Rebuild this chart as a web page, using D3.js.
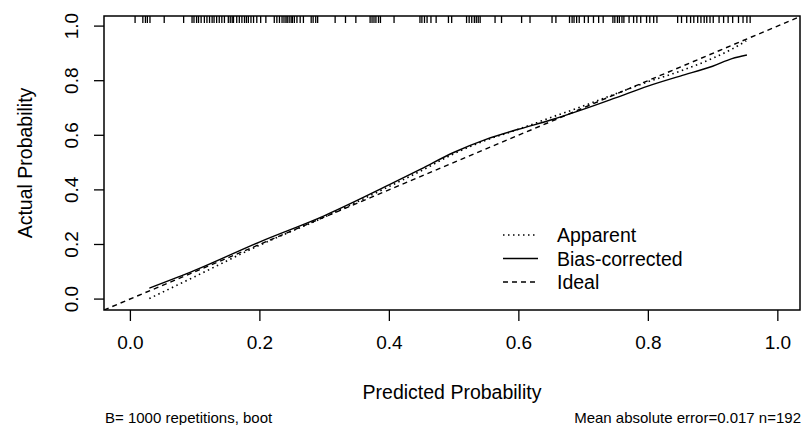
<!DOCTYPE html>
<html>
<head>
<meta charset="utf-8">
<script src="https://cdn.jsdelivr.net/npm/d3@7"></script>
<style>
  body { margin: 0; background: #fff; }
  svg { display: block; font-family: "Liberation Sans", Arial, sans-serif; }
</style>
</head>
<body>
<svg id="chart"></svg>
<script>
var width = 806;
var height = 425;
var box = { left: 104, right: 800, top: 16, bottom: 310 };

// predicted probability grid for the two calibration curves
var apparentX = [0.03, 0.1, 0.2, 0.3, 0.4, 0.45, 0.5, 0.55, 0.6, 0.65, 0.7, 0.75, 0.8, 0.85, 0.9, 0.93, 0.952];
var apparentY = [0.002, 0.082, 0.197, 0.3, 0.412, 0.47, 0.532, 0.582, 0.622, 0.665, 0.707, 0.752, 0.796, 0.835, 0.882, 0.916, 0.946];
var biasX = [0.03, 0.1, 0.2, 0.3, 0.4, 0.45, 0.5, 0.55, 0.6, 0.65, 0.7, 0.75, 0.8, 0.85, 0.9, 0.93, 0.953];
var biasY = [0.04, 0.105, 0.209, 0.305, 0.418, 0.477, 0.537, 0.585, 0.622, 0.656, 0.695, 0.737, 0.78, 0.817, 0.853, 0.881, 0.894];
// rug of predicted probabilities along the top
var rugX = [0.008, 0.020, 0.024, 0.027, 0.031, 0.053, 0.083, 0.096, 0.099, 0.103, 0.106, 0.110, 0.115, 0.119,
  0.123, 0.127, 0.130, 0.134, 0.138, 0.142, 0.146, 0.152, 0.155, 0.158, 0.160, 0.165, 0.169, 0.173, 0.177,
  0.180, 0.183, 0.187, 0.191, 0.196, 0.202, 0.210, 0.223, 0.227, 0.231, 0.235, 0.238, 0.241, 0.243, 0.246,
  0.249, 0.251, 0.254, 0.258, 0.263, 0.268, 0.280, 0.283, 0.287, 0.290, 0.317, 0.333, 0.349, 0.371, 0.374,
  0.377, 0.380, 0.384, 0.387, 0.408, 0.448, 0.451, 0.455, 0.459, 0.465, 0.473, 0.492, 0.497, 0.520, 0.524,
  0.528, 0.532, 0.535, 0.538, 0.541, 0.564, 0.574, 0.605, 0.618, 0.652, 0.658, 0.679, 0.683, 0.686, 0.690,
  0.694, 0.702, 0.708, 0.716, 0.724, 0.731, 0.746, 0.749, 0.753, 0.756, 0.760, 0.763, 0.771, 0.778, 0.783,
  0.789, 0.798, 0.803, 0.809, 0.814, 0.846, 0.852, 0.860, 0.866, 0.871, 0.877, 0.882, 0.887, 0.891, 0.896,
  0.901, 0.910, 0.917, 0.924, 0.931, 0.940, 0.947, 0.953, 0.958];
var tickValues = [0, 0.2, 0.4, 0.6, 0.8, 1.0];
var legendLabels = ["Apparent", "Bias-corrected", "Ideal"];
var legendDash = ["1.5,3.5", null, "5,4"];

var svg = d3.select("#chart")
    .attr("width", width)
    .attr("height", height);

var xscale = d3.scaleLinear()
    .domain([-0.04, 1.035])
    .range([box.left, box.right]);
var yscale = d3.scaleLinear()
    .domain([-0.04, 1.037])
    .range([box.bottom, box.top]);

svg.append("clipPath").attr("id", "plotclip")
  .append("rect")
    .attr("x", box.left).attr("y", box.top)
    .attr("width", box.right - box.left).attr("height", box.bottom - box.top);

var plot = svg.append("g").attr("clip-path", "url(#plotclip)");

// ideal line across the whole panel
var ideal = xscale.domain().map(function(v){ return [v, v]; });
plot.append("path")
    .attr("d", d3.line().x(function(d){ return xscale(d[0]); }).y(function(d){ return yscale(d[1]); })(ideal))
    .attr("fill", "none").attr("stroke", "#000").attr("stroke-width", 1.4)
    .attr("stroke-dasharray", "5,4");

var curve = d3.line()
    .x(function(d){ return xscale(d[0]); })
    .y(function(d){ return yscale(d[1]); })
    .curve(d3.curveMonotoneX);

plot.append("path")
    .attr("d", curve(d3.zip(apparentX, apparentY)))
    .attr("fill", "none").attr("stroke", "#000").attr("stroke-width", 1.6)
    .attr("stroke-dasharray", "1.5,3.5");

plot.append("path")
    .attr("d", curve(d3.zip(biasX, biasY)))
    .attr("fill", "none").attr("stroke", "#000").attr("stroke-width", 1.4);

// rug
plot.selectAll("line.rug")
    .data(rugX)
  .enter().append("line")
    .attr("class", "rug")
    .attr("x1", function(d){ return xscale(d); })
    .attr("x2", function(d){ return xscale(d); })
    .attr("y1", box.top)
    .attr("y2", box.top + 7)
    .attr("stroke", "#000").attr("stroke-width", 1.3);

// axes: ticks only, the box is drawn separately
var xaxis = d3.axisBottom(xscale).tickValues(tickValues).tickSize(11).tickPadding(10)
    .tickFormat(d3.format(".1f"));
var yaxis = d3.axisLeft(yscale).tickValues(tickValues).tickSize(10).tickPadding(0)
    .tickFormat(d3.format(".1f"));

var gx = svg.append("g")
    .attr("transform", "translate(0," + box.bottom + ")")
    .call(xaxis);
gx.select(".domain").remove();
gx.selectAll("line").attr("stroke-width", 1.3);
gx.selectAll("text").attr("font-size", 19).attr("font-family", "Liberation Sans, Arial, sans-serif")
    .attr("fill", "#000").attr("dy", "0.95em");

var gy = svg.append("g")
    .attr("transform", "translate(" + box.left + ",0)")
    .call(yaxis);
gy.select(".domain").remove();
gy.selectAll("line").attr("stroke-width", 1.3);
gy.selectAll("text")
    .attr("font-size", 19).attr("font-family", "Liberation Sans, Arial, sans-serif")
    .attr("fill", "#000")
    .attr("x", null).attr("dy", null)
    .attr("text-anchor", "middle")
    .attr("transform", function(d){ return "translate(" + (78 - box.left) + "," + yscale(d) + ") rotate(-90)"; })
    .attr("y", 0);
gy.selectAll(".tick").attr("transform", null);
gy.selectAll(".tick line")
    .attr("transform", function(d){ return "translate(0," + yscale(d) + ")"; });

svg.append("rect")
    .attr("x", box.left).attr("y", box.top)
    .attr("width", box.right - box.left).attr("height", box.bottom - box.top)
    .attr("fill", "none").attr("stroke", "#000").attr("stroke-width", 1.5);

// titles
svg.append("text")
    .attr("x", (box.left + box.right) / 2 + 0).attr("y", 399)
    .attr("text-anchor", "middle").attr("font-size", 19.5)
    .text("Predicted Probability");
svg.append("text")
    .attr("transform", "translate(31.5," + ((box.top + box.bottom) / 2) + ") rotate(-90)")
    .attr("text-anchor", "middle").attr("font-size", 19.5)
    .text("Actual Probability");

svg.append("text")
    .attr("x", 105).attr("y", 422.5)
    .attr("font-size", 15)
    .text("B= 1000 repetitions, boot");
svg.append("text")
    .attr("x", 801).attr("y", 422.5)
    .attr("text-anchor", "end").attr("font-size", 15)
    .text("Mean absolute error=0.017 n=192");

// legend
var legend = svg.append("g").selectAll("g")
    .data(legendLabels)
  .enter().append("g")
    .attr("transform", function(d, i){ return "translate(503," + (235 + i * 23.5) + ")"; });
legend.append("line")
    .attr("x1", 0).attr("x2", 35).attr("y1", 0).attr("y2", 0)
    .attr("stroke", "#000").attr("stroke-width", 1.4)
    .attr("stroke-dasharray", function(d, i){ return legendDash[i]; });
legend.append("text")
    .attr("x", 54).attr("y", 7)
    .attr("font-size", 19.5)
    .text(function(d){ return d; });
</script>
</body>
</html>
